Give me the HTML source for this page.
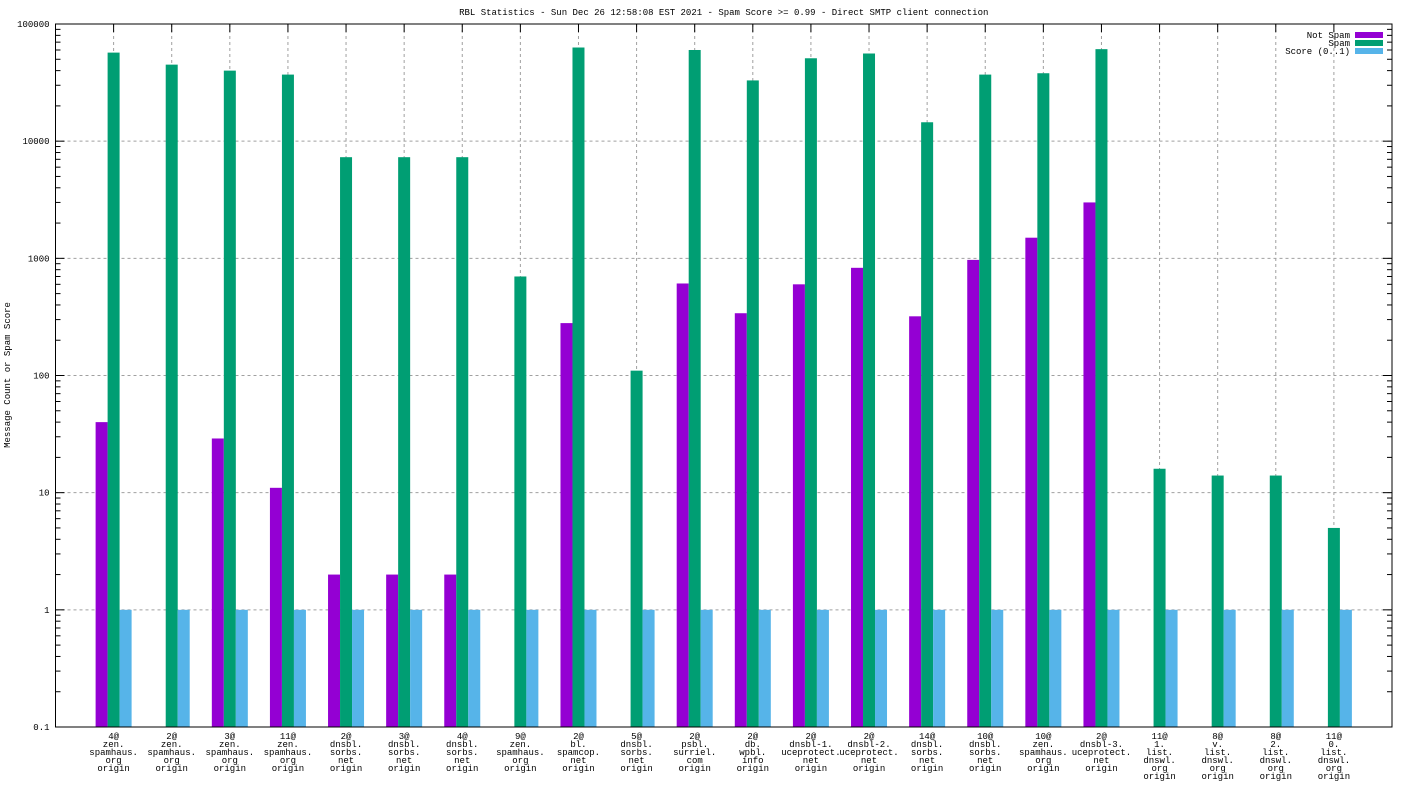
<!DOCTYPE html>
<html><head><meta charset="utf-8"><style>
body{margin:0;background:#fff;}
svg{display:block;font-family:"Liberation Mono",monospace;font-size:9px;}
</style></head><body>
<svg id="c" width="1408" height="792"></svg>
<script>
const categories=[["4@","zen.","spamhaus.","org","origin"],["2@","zen.","spamhaus.","org","origin"],["3@","zen.","spamhaus.","org","origin"],["11@","zen.","spamhaus.","org","origin"],["2@","dnsbl.","sorbs.","net","origin"],["3@","dnsbl.","sorbs.","net","origin"],["4@","dnsbl.","sorbs.","net","origin"],["9@","zen.","spamhaus.","org","origin"],["2@","bl.","spamcop.","net","origin"],["5@","dnsbl.","sorbs.","net","origin"],["2@","psbl.","surriel.","com","origin"],["2@","db.","wpbl.","info","origin"],["2@","dnsbl-1.","uceprotect.","net","origin"],["2@","dnsbl-2.","uceprotect.","net","origin"],["14@","dnsbl.","sorbs.","net","origin"],["10@","dnsbl.","sorbs.","net","origin"],["10@","zen.","spamhaus.","org","origin"],["2@","dnsbl-3.","uceprotect.","net","origin"],["11@","1.","list.","dnswl.","org","origin"].slice(0,5),["8@","v.","list.","dnswl.","org","origin"],["8@","2.","list.","dnswl.","org","origin"],["11@","0.","list.","dnswl.","org","origin"]];
const notSpam=[40,0,29,11,2,2,2,0,280,0,610,340,600,830,320,970,1500,3000,0,0,0,0];
const spam=[57000,45000,40000,37000,7300,7300,7300,700,63000,110,60000,33000,51000,56000,14500,37000,38000,61000,16,14,14,5];
const score=[1,1,1,1,1,1,1,1,1,1,1,1,1,1,1,1,1,1,1,1,1,1];
const yTicks=[0.1,1,10,100,1000,10000,100000];
const yTickLabels=["0.1","1","10","100","1000","10000","100000"];
categories[18]=["11@","1.","list.","dnswl.","org","origin"];
</script>
<script>
const NS="http://www.w3.org/2000/svg";
const svg=document.getElementById('c');
const L=55.5,R=1392,T=24,B=727;
const y=v=>B-(B-T)*(Math.log10(v)+1)/6;
const step=(R-L)/(categories.length+1);
const x=i=>L+(i+1)*step;
function mk(t,a,p){const e=document.createElementNS(NS,t);for(const k in a)e.setAttribute(k,a[k]);(p||svg).appendChild(e);return e;}
// grid
yTicks.forEach((v,i)=>{
 if(i>0&&i<yTicks.length-1){const g=mk('line',{x1:L,x2:R,y1:y(v),y2:y(v),stroke:'#a0a0a0','stroke-dasharray':'3,3'});
 
 }
 const t=mk('text',{x:L-6,y:y(v)+3,'text-anchor':'end'});t.textContent=yTickLabels[i];
 
 
 mk('line',{x1:L,x2:L+9,y1:y(v),y2:y(v),stroke:'#000'});
 mk('line',{x1:R,x2:R-9,y1:y(v),y2:y(v),stroke:'#000'});
 if(i<yTicks.length-1)for(let m=2;m<10;m++){const yy=y(v*m);
  mk('line',{x1:L,x2:L+5,y1:yy,y2:yy,stroke:'#000'});mk('line',{x1:R,x2:R-5,y1:yy,y2:yy,stroke:'#000'});}
});
categories.forEach((c,i)=>{
 const cx=x(i);
 const g=mk('line',{x1:cx,x2:cx,y1:T,y2:B,stroke:'#a0a0a0','stroke-dasharray':'3,3'});
 
 
 mk('line',{x1:cx,x2:cx,y1:T,y2:T+8,stroke:'#000'});
 mk('line',{x1:cx,x2:cx,y1:B,y2:B-8,stroke:'#000'});
 const bw=12;
 const series=[[notSpam,'#9400d3',-18,'bar-not-spam'],[spam,'#009e73',-6,'bar-spam'],[score,'#56b4e9',6,'bar-score']];
 series.forEach(s=>{const v=s[0][i];if(v>0){const r=mk('rect',{x:cx+s[2],y:y(v),width:bw,height:B-y(v),fill:s[1]});
  
  }});
 c.forEach((ln,j)=>{const t=mk('text',{x:cx,y:B+12+j*8,'text-anchor':'middle'});t.textContent=ln;
  
  });
});
const fr=mk('rect',{x:L,y:T,width:R-L,height:B-T,fill:'none',stroke:'#000'});


const ti=mk('text',{x:(L+R)/2,y:15,'text-anchor':'middle'});ti.textContent="RBL Statistics - Sun Dec 26 12:58:08 EST 2021 - Spam Score >= 0.99 - Direct SMTP client connection";


const yl=mk('text',{x:0,y:0,'text-anchor':'middle',transform:'translate(10,375) rotate(-90)'});yl.textContent="Message Count or Spam Score";


[["Not Spam",'#9400d3'],["Spam",'#009e73'],["Score (0..1)",'#56b4e9']].forEach((l,i)=>{
 const yy=35+i*8;
 const t=mk('text',{x:1350,y:yy+3,'text-anchor':'end'});t.textContent=l[0];
 
 
 mk('rect',{x:1355,y:yy-3,width:28,height:6,fill:l[1]});
});
</script>
</body></html>
